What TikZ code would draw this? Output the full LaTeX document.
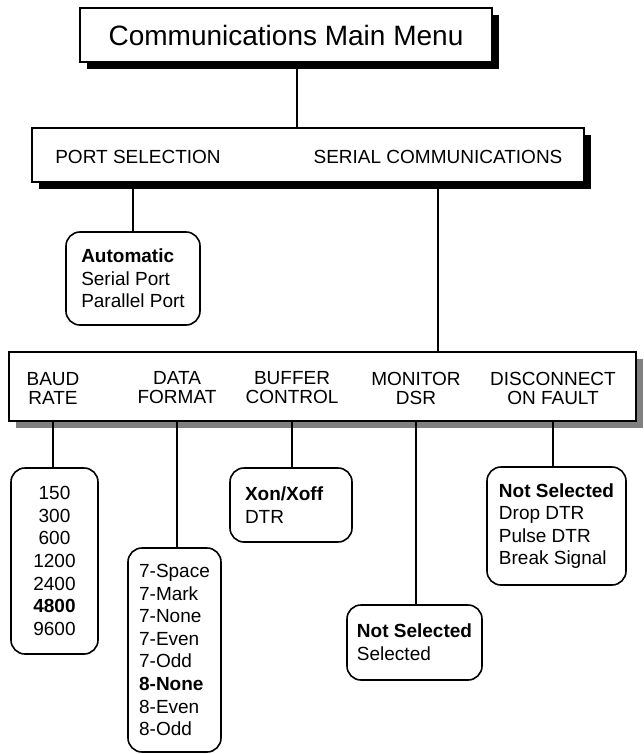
\documentclass[tikz,border=0pt]{standalone}
\usepackage{fontspec}
\setmainfont{Liberation Sans}
\usetikzlibrary{shadows}

\tikzset{
  menubox/.style={draw, line width=1.5pt, fill=white, inner sep=0pt},
  darkshadow/.style={drop shadow={shadow xshift=7pt, shadow yshift=-7pt, fill=black, opacity=1}},
  grayshadow/.style={drop shadow={shadow xshift=7pt, shadow yshift=-7pt, fill=black!50, opacity=1}},
  headlabel/.style={font=\fontsize{19}{19}\selectfont, align=center, inner sep=0pt},
  choicebox/.style={draw, line width=1.6pt, rounded corners=14pt, fill=white, align=left,
    font=\fontsize{19}{22.6}\selectfont},
  wire/.style={line width=1.5pt}
}

\begin{document}
\begin{tikzpicture}[x=1pt, y=-1pt]
    \useasboundingbox (0,0) rectangle (643,754);

    \node[menubox, darkshadow, minimum width=412pt, minimum height=54pt,
      font=\fontsize{28}{28}\selectfont] (main) at (286,35) {Communications Main Menu};

    \node[menubox, darkshadow, minimum width=552pt, minimum height=54pt] (bar) at (308,155) {};
    \node[headlabel] (port) at (138,157) {PORT SELECTION};
    \node[headlabel] (serial) at (438,157) {SERIAL COMMUNICATIONS};

    \node[choicebox, minimum width=134pt, minimum height=93pt] (portlist) at (133,278.5)
      {\textbf{Automatic}\\Serial Port\\Parallel Port};

    \node[menubox, grayshadow, minimum width=627pt, minimum height=69pt] (sub) at (322.5,386.5) {};
    \node[headlabel] (baud) at (53,388) {BAUD\\RATE};
    \node[headlabel] (data) at (177,388) {DATA\\FORMAT};
    \node[headlabel] (buffer) at (292,388) {BUFFER\\CONTROL};
    \node[headlabel] (monitor) at (416,388) {MONITOR\\DSR};
    \node[headlabel] (fault) at (553,388) {DISCONNECT\\ON FAULT};

    \node[choicebox, align=center, minimum width=87pt, minimum height=186pt] (baudlist) at (54.5,561)
      {150\\300\\600\\1200\\2400\\\textbf{4800}\\9600};
    \node[choicebox, minimum width=93pt, minimum height=204pt] (datalist) at (174.5,650)
      {7-Space\\7-Mark\\7-None\\7-Even\\7-Odd\\\textbf{8-None}\\8-Even\\8-Odd};
    \node[choicebox, text width=92pt, minimum width=122pt, minimum height=74pt] (bufferlist) at (291,505)
      {\textbf{Xon/Xoff}\\DTR};
    \node[choicebox, minimum width=135pt, minimum height=75pt] (dsrlist) at (414.5,642.5)
      {\textbf{Not Selected}\\Selected};
    \node[choicebox, minimum width=139pt, minimum height=118pt] (faultlist) at (556.5,526)
      {\textbf{Not Selected}\\Drop DTR\\Pulse DTR\\Break Signal};

    \coordinate (drop) at ([xshift=11pt]main.south);
    \draw[wire] (drop) -- (drop |- bar.north);
    \draw[wire] (portlist.north |- bar.south) -- (portlist.north);
    \draw[wire] (serial |- bar.south) -- (serial |- sub.north);
    \foreach \lbl/\lst in {baud/baudlist, data/datalist, buffer/bufferlist, monitor/dsrlist, fault/faultlist}
      \draw[wire] (\lbl |- sub.south) -- (\lbl |- \lst.north);
\end{tikzpicture}
\end{document}
